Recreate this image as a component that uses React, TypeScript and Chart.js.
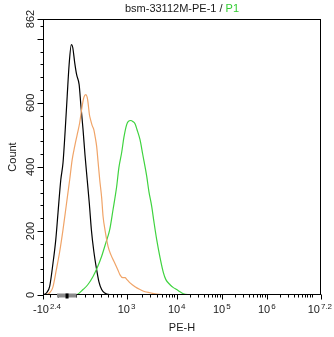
import React, { useEffect, useRef } from "react";
import { Chart, registerables } from "chart.js";

Chart.register(...registerables);

// ---- Data (x in display channel units 0..1000, y = count) ----
const blackX = [2, 13, 24, 36, 46, 54, 64, 72, 80, 87, 94, 102, 107, 114, 121, 130, 136, 144, 151, 159, 167, 174, 183, 193, 201, 211, 222, 240, 269];
const blackY = [0, 7, 27, 100, 173, 257, 360, 413, 517, 621, 720, 782, 773, 726, 688, 657, 595, 517, 438, 360, 282, 204, 135, 79, 42, 17, 6, 1, 0];

const orangeX = [12, 24, 35, 48, 60, 72, 84, 96, 105, 114, 123, 132, 140, 147, 154, 159, 162, 167, 171, 177, 183, 188, 193, 198, 204, 211, 216, 224, 234, 244, 258, 269, 277, 287, 295, 302, 313, 331, 349, 367, 385, 410, 439, 475];
const orangeY = [0, 7, 23, 79, 135, 204, 282, 360, 423, 464, 501, 538, 585, 617, 626, 617, 601, 563, 548, 529, 516, 492, 464, 417, 360, 304, 246, 198, 152, 126, 100, 79, 63, 54, 54, 48, 38, 26, 17, 10, 7, 2.5, 1, 0];

const greenX = [108, 125, 144, 161, 180, 195, 211, 226, 240, 252, 265, 273, 283, 291, 301, 307, 316, 323, 331, 338, 349, 359, 373, 381, 391, 399, 409, 421, 433, 442, 457, 469, 481, 493, 505, 529];
const greenY = [0, 2.5, 17, 32, 58, 85, 121, 163, 204, 267, 339, 398, 445, 492, 532, 542, 545, 542, 535, 517, 485, 438, 371, 323, 277, 229, 173, 117, 70, 48, 32, 23, 17, 10, 4, 0];

// ---- Axes ----
const xMin = 0;
const xMax = 1000;
const xMajorTicks = [0, 300.6, 481, 643, 805, 1000];
const xMajorBase = ["-10", "10", "10", "10", "10", "10"];
const xMajorExp = ["2.4", "3", "4", "5", "6", "7.2"];
const xMinorTicks = [24, 54, 86, 118, 150, 179, 208, 233, 251, 266, 280];
const xDecadeStarts = [300.6, 481, 643, 805];
const xDecadeWidths = [180.4, 162, 162, 162];

const yMin = 0;
const yMax = 862;
const yMajorTicks = [0, 200, 400, 600, 800, 862];
const yLabelTicks = [0, 200, 400, 600, 862];
const yMinorStep = 40;

const gateRange = [50.5, 120.4];
const gateMarker = 86.5;

const titleMain = "bsm-33112M-PE-1 / ";
const titleGate = "P1";
const xTitle = "PE-H";
const yTitle = "Count";

const FONT = "Arial, 'Liberation Sans', sans-serif";

const zip = (xs: number[], ys: number[]) => xs.map((x, i) => ({ x, y: ys[i] }));

const facsPlugin = {
  id: "facsDecor",
  afterDraw(chart: any) {
    const ctx: CanvasRenderingContext2D = chart.ctx;
    const a = chart.chartArea;
    const xs = chart.scales.x;
    const ys = chart.scales.y;
    ctx.save();
    // frame
    ctx.strokeStyle = "#000";
    ctx.lineWidth = 1;
    const L = Math.round(a.left) + 0.5;
    const R = Math.round(a.right) - 0.5;
    const T = Math.round(a.top) + 0.5;
    const B = Math.round(a.bottom) - 0.5;
    ctx.strokeRect(L, T, R - L, B - T);

    // y ticks
    ctx.beginPath();
    for (let v = yMin; v <= yMax; v += yMinorStep) {
      const y = Math.round(ys.getPixelForValue(v)) + 0.5;
      ctx.moveTo(L - 3, y);
      ctx.lineTo(L, y);
    }
    for (const v of yMajorTicks) {
      const y = Math.round(ys.getPixelForValue(v)) + 0.5;
      ctx.moveTo(L - 6, y);
      ctx.lineTo(L, y);
    }
    // x ticks
    const xTick = (v: number, len: number) => {
      if (v < xMin || v > xMax) return;
      const x = Math.round(xs.getPixelForValue(v)) + 0.5;
      ctx.moveTo(x, B);
      ctx.lineTo(x, B + len);
    };
    for (const v of xMinorTicks) xTick(v, 3);
    xDecadeStarts.forEach((s, i) => {
      for (let k = 2; k <= 10; k++) xTick(s + xDecadeWidths[i] * Math.log10(k), 3);
    });
    for (const v of xMajorTicks) xTick(v, 5);
    ctx.stroke();

    // gate bar on axis
    const g0 = xs.getPixelForValue(gateRange[0]);
    const g1 = xs.getPixelForValue(gateRange[1]);
    ctx.fillStyle = "#8a8a8a";
    ctx.fillRect(g0, B - 1, g1 - g0, 4);
    ctx.fillStyle = "#000";
    const gm = xs.getPixelForValue(gateMarker);
    ctx.fillRect(gm - 1.5, B - 1, 3, 5);

    // y labels (rotated)
    ctx.fillStyle = "#1a1a1a";
    ctx.font = `11px ${FONT}`;
    ctx.textAlign = "center";
    ctx.textBaseline = "alphabetic";
    for (const v of yLabelTicks) {
      const y = ys.getPixelForValue(v);
      ctx.save();
      ctx.translate(L - 10, y);
      ctx.rotate(-Math.PI / 2);
      ctx.fillText(String(v), 0, 0);
      ctx.restore();
    }
    // y title
    ctx.save();
    ctx.translate(15.5, (a.top + a.bottom) / 2);
    ctx.rotate(-Math.PI / 2);
    ctx.fillText(yTitle, 0, 0);
    ctx.restore();

    // x labels with superscripts
    ctx.textAlign = "left";
    xMajorTicks.forEach((v, i) => {
      const cx = xs.getPixelForValue(v);
      ctx.font = `11px ${FONT}`;
      const wb = ctx.measureText(xMajorBase[i]).width;
      ctx.font = `8px ${FONT}`;
      const we = ctx.measureText(xMajorExp[i]).width;
      const total = wb + 1 + we;
      let x0 = cx - total / 2;
      if (x0 < 33) x0 = 33;
      if (x0 + total > 332) x0 = 332 - total;
      ctx.font = `11px ${FONT}`;
      ctx.fillText(xMajorBase[i], x0, 313);
      ctx.font = `8px ${FONT}`;
      ctx.fillText(xMajorExp[i], x0 + wb + 1, 308.5);
    });

    // x title
    ctx.font = `11px ${FONT}`;
    ctx.textAlign = "center";
    ctx.fillText(xTitle, (a.left + a.right) / 2, 331);

    // chart title
    ctx.font = `11px ${FONT}`;
    ctx.textAlign = "left";
    const w1 = ctx.measureText(titleMain).width;
    const w2 = ctx.measureText(titleGate).width;
    const tx = (a.left + a.right) / 2 - (w1 + w2) / 2;
    ctx.fillStyle = "#1a1a1a";
    ctx.fillText(titleMain, tx, 12);
    ctx.fillStyle = "#33cc33";
    ctx.fillText(titleGate, tx + w1, 12);
    ctx.restore();
  },
};

export default function App() {
  const ref = useRef<HTMLCanvasElement | null>(null);
  useEffect(() => {
    if (!ref.current) return;
    const chart = new Chart(ref.current, {
      type: "line",
      data: {
        datasets: [
          { data: zip(orangeX, orangeY), borderColor: "#f0a468", borderWidth: 1.2 },
          { data: zip(greenX, greenY), borderColor: "#3fd33f", borderWidth: 1.2 },
          { data: zip(blackX, blackY), borderColor: "#000000", borderWidth: 1.2 },
        ] as any,
      },
      options: {
        animation: false,
        responsive: false,
        maintainAspectRatio: false,
        layout: { padding: { left: 43, right: 13, top: 19, bottom: 42 } },
        elements: { point: { radius: 0 }, line: { cubicInterpolationMode: "monotone", fill: false } },
        scales: {
          x: { type: "linear", min: xMin, max: xMax, display: false },
          y: { type: "linear", min: yMin, max: yMax, display: false },
        },
        plugins: { legend: { display: false }, tooltip: { enabled: false }, title: { display: false } },
      },
      plugins: [facsPlugin],
    });
    return () => chart.destroy();
  }, []);
  return (
    <div style={{ position: "absolute", left: 0, top: 0, width: 334, height: 337, background: "#fff" }}>
      <canvas ref={ref} width={334} height={337} style={{ display: "block", width: 334, height: 337 }} />
    </div>
  );
}
